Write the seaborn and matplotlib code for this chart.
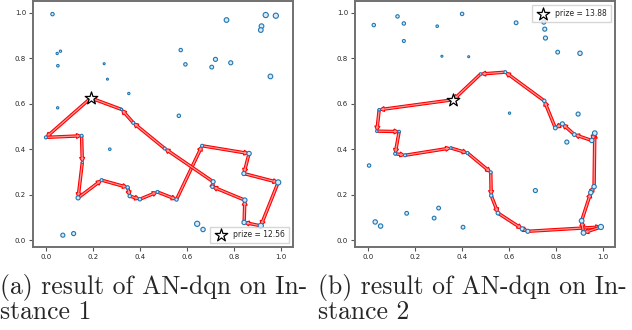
import matplotlib
matplotlib.use("Agg")
import matplotlib.pyplot as plt
import seaborn as sns
import numpy as np

# ---------------- Instance 1 ----------------
start1 = (0.191, 0.625)
prize1 = 12.56
route1_x = [0.000, 0.152, 0.155, 0.137, 0.237, 0.348, 0.357, 0.400, 0.475, 0.556,
            0.665, 0.865, 0.843, 0.989, 0.915, 0.844, 0.847, 0.709, 0.712, 0.506,
            0.372, 0.322]
route1_y = [0.452, 0.459, 0.342, 0.186, 0.264, 0.232, 0.194, 0.180, 0.212, 0.179,
            0.415, 0.381, 0.293, 0.254, 0.063, 0.078, 0.176, 0.235, 0.257, 0.403,
            0.516, 0.575]
route1_s = [6, 6, 3, 12, 6, 8, 8, 8, 6, 8,
            6, 14, 12, 20, 20, 14, 14, 8, 12, 6,
            6, 3]
other1_x = [0.028, 0.048, 0.062, 0.051, 0.050, 0.248, 0.262, 0.353, 0.272, 0.574,
            0.594, 0.566, 0.769, 0.936, 0.979, 0.918, 0.915, 0.956, 0.706, 0.722,
            0.787, 0.072, 0.118, 0.644, 0.669]
other1_y = [0.994, 0.821, 0.831, 0.767, 0.582, 0.776, 0.708, 0.645, 0.400, 0.836,
            0.773, 0.547, 0.968, 0.990, 0.987, 0.941, 0.924, 0.720, 0.761, 0.795,
            0.780, 0.022, 0.029, 0.072, 0.047]
other1_s = [8, 3, 3, 4, 3, 2, 2, 3, 4, 8,
            8, 8, 16, 20, 20, 16, 16, 16, 10, 12,
            12, 12, 12, 20, 14]

# ---------------- Instance 2 ----------------
start2 = (0.364, 0.617)
prize2 = 13.88
route2_x = [0.048, 0.038, 0.133, 0.116, 0.158, 0.353, 0.424, 0.523, 0.525, 0.554,
            0.657, 0.681, 0.992, 0.918, 0.910, 0.949, 0.963, 0.966, 0.953, 0.879,
            0.828, 0.798, 0.751, 0.585, 0.480]
route2_y = [0.573, 0.479, 0.477, 0.380, 0.373, 0.405, 0.383, 0.298, 0.196, 0.119,
            0.050, 0.039, 0.058, 0.032, 0.085, 0.209, 0.235, 0.470, 0.438, 0.464,
            0.511, 0.493, 0.612, 0.738, 0.730]
route2_s = [4, 4, 4, 6, 6, 4, 6, 6, 8, 10,
            12, 12, 20, 16, 16, 14, 14, 16, 14, 10,
            12, 10, 8, 6, 4]
other2_x = [0.025, 0.126, 0.153, 0.153, 0.295, 0.315, 0.429, 0.401, 0.631, 0.749,
            0.753, 0.756, 0.808, 0.903, 0.895, 0.603, 0.847, 0.005, 0.713, 0.031,
            0.054, 0.165, 0.301, 0.282, 0.405]
other2_y = [0.945, 0.983, 0.952, 0.875, 0.940, 0.808, 0.806, 0.994, 0.955, 0.958,
            0.927, 0.888, 0.826, 0.821, 0.554, 0.558, 0.431, 0.328, 0.218, 0.080,
            0.062, 0.118, 0.141, 0.097, 0.057]
other2_s = [8, 8, 8, 6, 4, 2, 2, 8, 10, 12,
            12, 12, 10, 14, 12, 3, 12, 8, 12, 14,
            14, 10, 10, 10, 10]

captions = ["(a) result of AN-dqn on In-\nstance 1",
            "(b) result of AN-dqn on In-\nstance 2"]

sns.set_style("white")
plt.rcParams['font.family'] = ['DejaVu Sans']

fig = plt.figure(figsize=(6.32, 3.30), dpi=100)
ax1 = fig.add_axes([0.0522, 0.2515, 0.411, 0.745])
ax2 = fig.add_axes([0.5617, 0.2515, 0.411, 0.745])

blue = '#1f77b4'


def draw(ax, start, prize, rx, ry, rs, ox, oy, os_, legend_loc):
    xs = np.array([start[0]] + rx + [start[0]])
    ys = np.array([start[1]] + ry + [start[1]])
    for i in range(len(xs) - 1):
        ax.arrow(xs[i], ys[i], xs[i + 1] - xs[i], ys[i + 1] - ys[i],
                 width=0.010, head_width=0.022, head_length=0.022,
                 length_includes_head=True, fc='#ff9a9a', ec='#ff0000', lw=0.8,
                 zorder=2)
    allx = list(rx) + list(ox)
    ally = list(ry) + list(oy)
    alls = list(rs) + list(os_)
    sns.scatterplot(x=allx, y=ally, size=alls, sizes=(2, 14), size_norm=(2, 20),
                    marker='o', facecolor='#dbe9f5', edgecolor=blue,
                    linewidth=0.8, legend=False, ax=ax, zorder=3)
    sns.scatterplot(x=[start[0]], y=[start[1]], marker='*', s=90,
                    facecolor='white', edgecolor='black', linewidth=0.9,
                    label=f"prize = {prize:.2f}", ax=ax, zorder=4)
    ax.set_xlim(-0.055, 1.051)
    ax.set_xticks([0.0, 0.2, 0.4, 0.6, 0.8, 1.0])
    ax.set_yticks([0.0, 0.2, 0.4, 0.6, 0.8, 1.0])
    ax.xaxis.set_major_formatter(matplotlib.ticker.FormatStrFormatter('%.1f'))
    ax.yaxis.set_major_formatter(matplotlib.ticker.FormatStrFormatter('%.1f'))
    ax.tick_params(axis='both', labelsize=5, length=3, width=0.8,
                   color='#555555', bottom=True, left=True, pad=2)
    for sp in ax.spines.values():
        sp.set_color('#707070')
        sp.set_linewidth(1.4)
    ax.legend(loc=legend_loc, fontsize=5.5, frameon=True, edgecolor='#cccccc',
              fancybox=False, handletextpad=0.6, borderpad=0.5, markerscale=1.0)


draw(ax1, start1, prize1, route1_x, route1_y, route1_s,
     other1_x, other1_y, other1_s, 'lower right')
ax1.set_ylim(-0.03, 1.051)
draw(ax2, start2, prize2, route2_x, route2_y, route2_s,
     other2_x, other2_y, other2_s, 'upper right')
ax2.set_ylim(-0.03, 1.05)

fig.text(0.0, 0.018, captions[0], fontsize=18.5, family='cmr10',
         ha='left', va='bottom', linespacing=0.98)
fig.text(0.503, 0.018, captions[1], fontsize=18.5, family='cmr10',
         ha='left', va='bottom', linespacing=0.98)

fig.savefig('out.png', dpi=100)
